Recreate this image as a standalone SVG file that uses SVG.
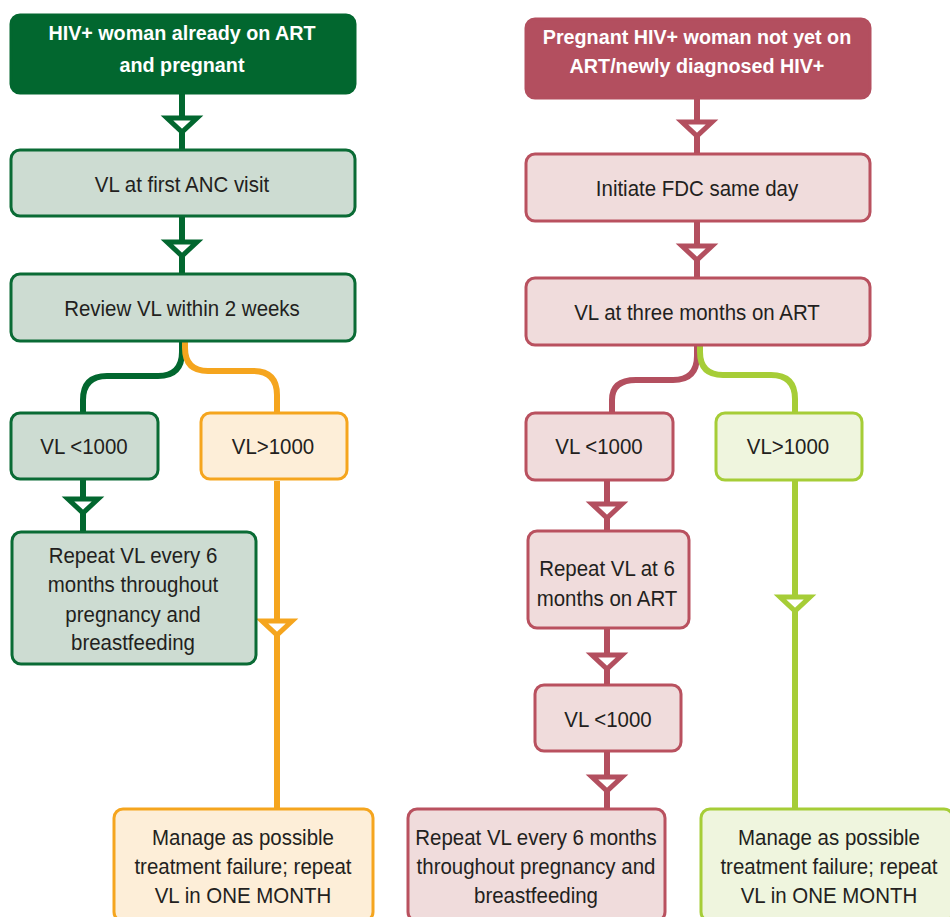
<svg xmlns="http://www.w3.org/2000/svg" xmlns:xlink="http://www.w3.org/1999/xlink" width="950" height="917" viewBox="0 0 950 917">
<style>
text{font-family:"Liberation Sans Narrow","Liberation Sans",Arial,sans-serif;font-size:22px;fill:#231f20;text-anchor:middle;transform-box:fill-box;transform-origin:center;transform:scaleX(0.93)}
.t{fill:#fff;font-weight:bold;font-size:21px;transform:scaleX(0.94)}
.dg{fill:#02672f;stroke:#02672f;stroke-width:3}
.lg{fill:#cddcd2;stroke:#0a6b35;stroke-width:3}
.or{fill:#fdeed8;stroke:#f5a51e;stroke-width:3}
.dr{fill:#b34f5f;stroke:#b34f5f;stroke-width:3}
.lr{fill:#f0dcdc;stroke:#b9515f;stroke-width:3}
.lm{fill:#eff5de;stroke:#a6cd37;stroke-width:3}
.c{fill:none;stroke-width:6}
.cg{stroke:#02672f}.co{stroke:#f5a51e}.cr{stroke:#b34f5f}.cl{stroke:#a6cd37}
</style>
<defs>
<polygon id="ah" points="-15,-6 15,-6 0,8" stroke-width="5" stroke-linejoin="miter" fill="#fff"/>
</defs>
<g id="connectors">
<path class="c cg" d="M182,93 V149"/>
<use xlink:href="#ah" x="182" y="124" stroke="#02672f"/>
<path class="c cg" d="M182,216 V273"/>
<use xlink:href="#ah" x="182" y="248" stroke="#02672f"/>
<path class="c cg" d="M182,341 V352 Q182,376 158,376 H107 Q83,376 83,400 V412"/>
<path class="c co" d="M185,341 V348 Q185,371 208,371 H253 Q277,371 277,395 V412"/>
<path class="c cg" d="M83,479 V531"/>
<use xlink:href="#ah" x="83" y="505" stroke="#02672f"/>
<path class="c co" d="M277,481 V808"/>
<use xlink:href="#ah" x="277" y="627" stroke="#f5a51e"/>
<path class="c cr" d="M697,98 V153"/>
<use xlink:href="#ah" x="697" y="128" stroke="#b34f5f"/>
<path class="c cr" d="M697,221 V277"/>
<use xlink:href="#ah" x="697" y="252" stroke="#b34f5f"/>
<path class="c cr" d="M697,345 V356 Q697,380 673,380 H636 Q612,380 612,400 V412"/>
<path class="c cl" d="M700,345 V352 Q700,375 723,375 H771 Q795,375 795,399 V412"/>
<path class="c cr" d="M607,480 V530"/>
<use xlink:href="#ah" x="607" y="510" stroke="#b34f5f"/>
<path class="c cr" d="M607,628 V684"/>
<use xlink:href="#ah" x="607" y="661" stroke="#b34f5f"/>
<path class="c cr" d="M607,751 V808"/>
<use xlink:href="#ah" x="607" y="783" stroke="#b34f5f"/>
<path class="c cl" d="M795,481 V808"/>
<use xlink:href="#ah" x="795" y="603" stroke="#a6cd37"/>
</g>
<g id="n1"><rect class="dg" x="11" y="15" width="344" height="78" rx="9"/><text class="t" x="182" y="40">HIV+ woman already on ART</text><text class="t" x="182" y="72">and pregnant</text></g>
<g id="n2"><rect class="lg" x="11" y="150" width="344" height="66" rx="9"/><text x="182" y="192">VL at first ANC visit</text></g>
<g id="n3"><rect class="lg" x="11" y="274" width="344" height="67" rx="9"/><text x="182" y="316">Review VL within 2 weeks</text></g>
<g id="n4"><rect class="lg" x="11" y="413" width="147" height="66" rx="9"/><text x="84" y="454">VL &lt;1000</text></g>
<g id="n5"><rect class="or" x="201" y="413" width="146" height="66" rx="9"/><text x="273" y="454">VL&gt;1000</text></g>
<g id="n6"><rect class="lg" x="12" y="532" width="244" height="132" rx="9"/><text x="133" y="563">Repeat VL every 6</text><text x="133" y="592">months throughout</text><text x="133" y="622">pregnancy and</text><text x="133" y="650">breastfeeding</text></g>
<g id="n7"><rect class="or" x="114" y="809" width="259" height="112" rx="9"/><text x="243" y="845">Manage as possible</text><text x="243" y="874">treatment failure; repeat</text><text x="243" y="903">VL in ONE MONTH</text></g>
<g id="n8"><rect class="dr" x="526" y="19" width="344" height="79" rx="9"/><text class="t" x="697" y="44">Pregnant HIV+ woman not yet on</text><text class="t" x="697" y="73">ART/newly diagnosed HIV+</text></g>
<g id="n9"><rect class="lr" x="526" y="154" width="344" height="67" rx="9"/><text x="697" y="196">Initiate FDC same day</text></g>
<g id="n10"><rect class="lr" x="526" y="278" width="344" height="67" rx="9"/><text x="697" y="320">VL at three months on ART</text></g>
<g id="n11"><rect class="lr" x="526" y="413" width="147" height="67" rx="9"/><text x="599" y="454">VL &lt;1000</text></g>
<g id="n12"><rect class="lm" x="716" y="413" width="146" height="67" rx="9"/><text x="788" y="454">VL&gt;1000</text></g>
<g id="n13"><rect class="lr" x="528" y="531" width="161" height="97" rx="9"/><text x="607" y="576">Repeat VL at 6</text><text x="607" y="606">months on ART</text></g>
<g id="n14"><rect class="lr" x="535" y="685" width="146" height="66" rx="9"/><text x="608" y="727">VL &lt;1000</text></g>
<g id="n15"><rect class="lr" x="408" y="809" width="257" height="112" rx="9"/><text x="536" y="845">Repeat VL every 6 months</text><text x="536" y="874">throughout pregnancy and</text><text x="536" y="903">breastfeeding</text></g>
<g id="n16"><rect class="lm" x="701" y="809" width="252" height="112" rx="9"/><text x="829" y="845">Manage as possible</text><text x="829" y="874">treatment failure; repeat</text><text x="829" y="903">VL in ONE MONTH</text></g>
</svg>
